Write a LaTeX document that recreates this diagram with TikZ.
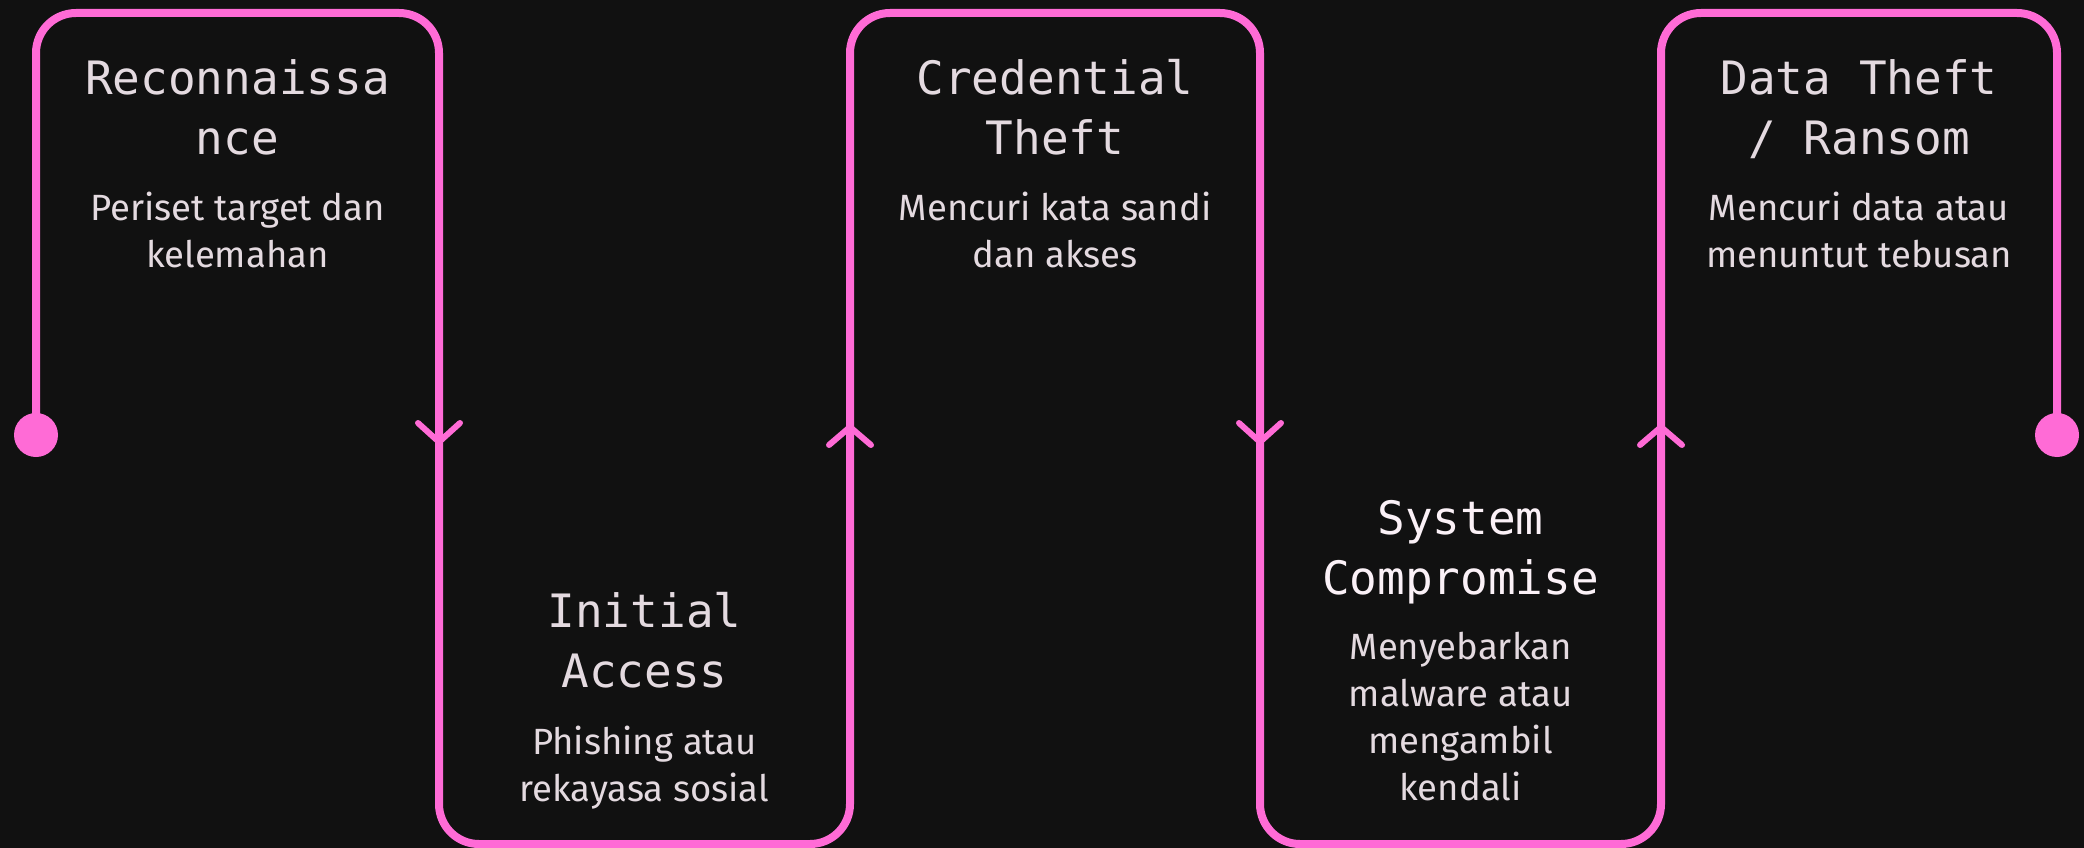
\documentclass[tikz,border=0pt]{standalone}
\usepackage{fontspec}
\setmainfont{Fira Sans}
\newfontfamily\titlefont{DejaVu Sans Mono}
\usetikzlibrary{calc}

\definecolor{bgdark}{HTML}{111111}
\definecolor{flowpink}{HTML}{FF6BD6}
\definecolor{softtext}{HTML}{E4DAE0}
\definecolor{brighttext}{HTML}{FBF1F7}

\tikzset{
  stagetitle/.style={text=softtext, font=\titlefont\fontsize{46}{60}\selectfont, align=center, anchor=base, inner sep=0pt},
  stagedesc/.style={text=softtext, font=\fontsize{36.5}{47}\selectfont, align=center, anchor=base, inner sep=0pt},
  flow/.style={draw=flowpink, line width=8pt, rounded corners=40pt},
  chevron/.style={draw=flowpink, line width=6pt, line cap=round, line join=round},
}

\begin{document}
\begin{tikzpicture}[x=1pt,y=-1pt]

\fill[bgdark] (0,0) rectangle (2084,848);
\useasboundingbox (0,0) rectangle (2084,848);

\coordinate (start) at (36,435);
\coordinate (stop) at (2057,435);

\draw[flow] (start) -- (36,13) -- (439,13) -- (439,844) -- (850,844) -- (850,13)
  -- (1260,13) -- (1260,844) -- (1661,844) -- (1661,13) -- (2057,13) -- (stop);
\fill[flowpink] (start) circle (22pt);
\fill[flowpink] (stop) circle (22pt);

\coordinate (down1) at (439,442);
\coordinate (up1) at (850,427);
\coordinate (down2) at (1260,442);
\coordinate (up2) at (1661,427);
\draw[chevron] (down1) ++(-21,-19) -- (down1) -- ++(21,-19);
\draw[chevron] (up1) ++(-21,18) -- (up1) -- ++(21,18);
\draw[chevron] (down2) ++(-21,-19) -- (down2) -- ++(21,-19);
\draw[chevron] (up2) ++(-21,18) -- (up2) -- ++(21,18);

\node[stagetitle] (recon) at (237.5,154) {Reconnaissa\\nce};
\node[stagedesc] (reconD) at (237.5,267) {Periset target dan\\kelemahan};

\node[stagetitle] (access) at (644.5,687) {Initial\\Access};
\node[stagedesc] (accessD) at (644.5,801) {Phishing atau\\rekayasa sosial};

\node[stagetitle] (cred) at (1055,154) {Credential\\Theft};
\node[stagedesc] (credD) at (1055,267) {Mencuri kata sandi\\dan akses};

\node[stagetitle, text=brighttext] (system) at (1460.5,594) {System\\Compromise};
\node[stagedesc] (systemD) at (1460.5,800) {Menyebarkan\\malware atau\\mengambil\\kendali};

\node[stagetitle] (theft) at (1859,154) {Data Theft\\/ Ransom};
\node[stagedesc] (theftD) at (1859,267) {Mencuri data atau\\menuntut tebusan};

\end{tikzpicture}
\end{document}
